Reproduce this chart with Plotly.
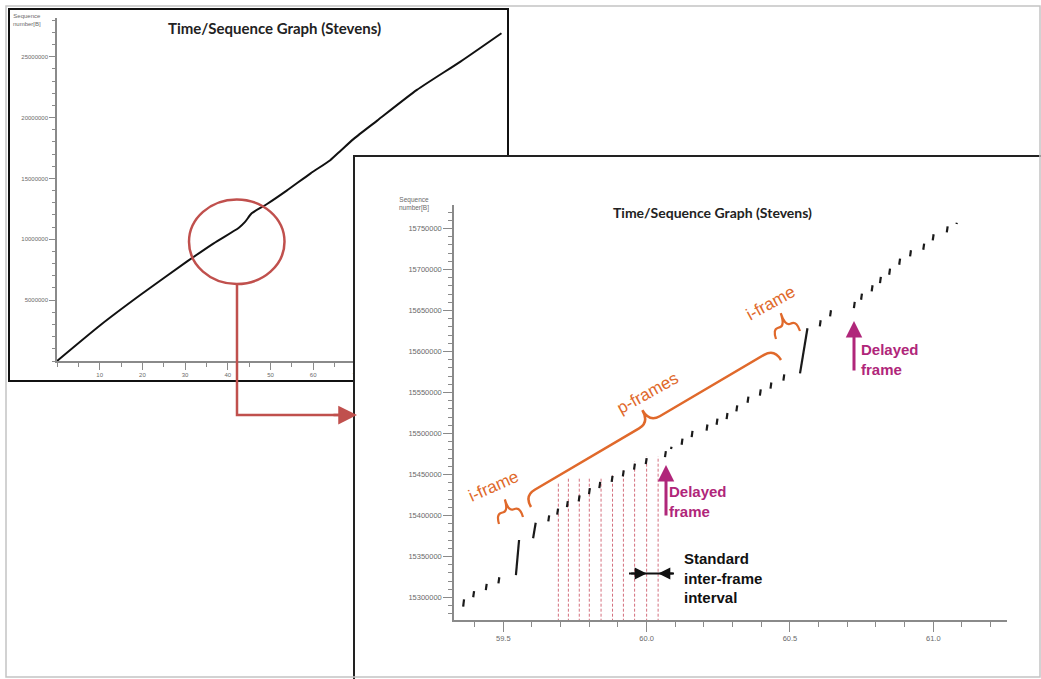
import plotly.graph_objects as go

# ---------------- data ----------------
# overview graph (left panel)
overview_time = [0, 10.2, 19.5, 30.4, 36.7, 42.6, 44.1, 45.6, 49.2, 53.8, 59.4, 64.0, 66.5, 69.5, 75.0, 84.3, 94.5, 104.1]
overview_seq = [0, 2960000, 5420000, 8160000, 9670000, 10950000, 11450000, 12130000, 12900000, 14000000,
                15420000, 16500000, 17300000, 18250000, 19750000, 22270000, 24600000, 26930000]
overview_xticks = [10, 20, 30, 40, 50, 60, 70, 80, 90, 100]
overview_yticks = [5000000, 10000000, 15000000, 20000000, 25000000]
overview_yticktext = ["5000000", "10000000", "15000000", "20000000", "25000000"]

# zoomed graph (right panel): one short segment per video frame
frame_start_time = [59.360, 59.395, 59.439, 59.483, 59.544, 59.604, 59.657, 59.688, 59.722, 59.763, 59.799,
                    59.835, 59.878, 59.917, 59.956, 59.997, 60.064, 60.085, 60.122, 60.157, 60.209, 60.244,
                    60.279, 60.313, 60.352, 60.395, 60.432, 60.477, 60.535, 60.604, 60.640, 60.723, 60.748,
                    60.785, 60.814, 60.846, 60.881, 60.919, 60.965, 60.998, 61.047, 61.081]
frame_end_time = [59.363, 59.398, 59.442, 59.486, 59.555, 59.613, 59.660, 59.691, 59.725, 59.766, 59.802,
                  59.838, 59.881, 59.920, 59.959, 60.000, 60.067, 60.087, 60.125, 60.160, 60.212, 60.247,
                  60.282, 60.316, 60.355, 60.398, 60.435, 60.480, 60.561, 60.607, 60.643, 60.726, 60.751,
                  60.788, 60.817, 60.849, 60.884, 60.922, 60.968, 61.001, 61.050, 61.082]
frame_seq_start = [15288800, 15300300, 15309100, 15317300, 15327400, 15372200, 15392800, 15401000, 15410100,
                   15417200, 15426000, 15433500, 15441000, 15447700, 15455900, 15462600, 15471100, 15481200,
                   15486300, 15495700, 15503600, 15510700, 15517600, 15527000, 15537500, 15546300, 15554800,
                   15564600, 15573400, 15630700, 15642900, 15653000, 15663100, 15673400, 15683500, 15693600,
                   15705800, 15716100, 15724100, 15735600, 15745300, 15755600]
frame_seq_end = [15297800, 15307700, 15316500, 15324700, 15370100, 15391200, 15400200, 15408400, 15417500,
                 15424600, 15433400, 15440900, 15448400, 15455100, 15463300, 15470000, 15478500, 15483800,
                 15493700, 15503100, 15511000, 15518100, 15525000, 15534400, 15544900, 15553700, 15562200,
                 15572000, 15628300, 15638100, 15650300, 15660400, 15670500, 15680800, 15690900, 15701000,
                 15713200, 15723500, 15731500, 15743000, 15752700, 15757000]

# expected (regular) frame times, drawn as dashed guides
expected_frame_time = [59.692, 59.727, 59.765, 59.800, 59.841, 59.881, 59.919, 59.958, 60.000, 60.040]
guide_top_seq = [15441000, 15446000, 15446000, 15446000, 15446000, 15449000, 15455000, 15466000, 15472000, 15472000]

zoom_xticks = [59.5, 60.0, 60.5, 61.0]
zoom_xticktext = ["59.5", "60.0", "60.5", "61.0"]
zoom_yticks = [15300000, 15350000, 15400000, 15450000, 15500000, 15550000, 15600000, 15650000, 15700000, 15750000]
zoom_yticktext = ["15300000", "15350000", "15400000", "15450000", "15500000", "15550000",
                  "15600000", "15650000", "15700000", "15750000"]

# ---------------- helpers ----------------
W, H = 1041, 679


def px(x):
    return x / W


def py(y):
    return 1 - y / H


def brace_path(a, b, c1, c2, r):
    (x0, y0), (x1, y1) = a, b
    dx, dy = x1 - x0, y1 - y0
    L = (dx * dx + dy * dy) ** 0.5
    ux, uy = dx / L, dy / L
    nx, ny = uy, -ux
    if ny > 0:
        nx, ny = -nx, -ny

    def P(al, c):
        X = x0 + ux * al + nx * c
        Y = y0 + uy * al + ny * c
        return f"{X / W:.5f},{1 - Y / H:.5f}"

    h = L / 2
    return (f"M {P(0, 0)} Q {P(0, c1)} {P(r, c1)} L {P(h - r, c1)} Q {P(h, c1)} {P(h, c2)} "
            f"Q {P(h, c1)} {P(h + r, c1)} L {P(L - r, c1)} Q {P(L, c1)} {P(L, 0)}")


AX = "#8a8a8a"
ORANGE = "#e0692b"
MAGENTA = "#b0267a"
RED = "#c0504d"

fig = go.Figure()

# overview line
fig.add_trace(go.Scatter(x=overview_time, y=overview_seq, mode="lines",
                         line=dict(color="#111111", width=2, shape="spline", smoothing=0.6),
                         xaxis="x", yaxis="y", hoverinfo="skip", showlegend=False))
# panel backing subplot (empty)
fig.add_trace(go.Scatter(x=[None], y=[None], mode="markers", xaxis="x2", yaxis="y2",
                         hoverinfo="skip", showlegend=False))

# dashed guides
gx, gy = [], []
for t, top in zip(expected_frame_time, guide_top_seq):
    gx += [t, t, None]
    gy += [15240000, top, None]
fig.add_trace(go.Scatter(x=gx, y=gy, mode="lines", line=dict(color="#d4707e", width=1, dash="3px,2px"),
                         xaxis="x3", yaxis="y3", hoverinfo="skip", showlegend=False))

# frame bursts
fx, fy = [], []
for t0, t1, s0, s1 in zip(frame_start_time, frame_end_time, frame_seq_start, frame_seq_end):
    fx += [t0, t1, None]
    fy += [s0, s1, None]
fig.add_trace(go.Scatter(x=fx, y=fy, mode="lines", line=dict(color="#1a1a1a", width=2.2),
                         xaxis="x3", yaxis="y3", hoverinfo="skip", showlegend=False))

tickfont_small = dict(family="Liberation Sans", size=6, color="#6a6a6a")
tickfont_zoom = dict(family="Liberation Sans", size=7.5, color="#6a6a6a")

fig.update_layout(
    width=W, height=H, autosize=False,
    margin=dict(l=0, r=0, t=0, b=0),
    paper_bgcolor="white", plot_bgcolor="white",
    showlegend=False,
    xaxis=dict(domain=[px(57), px(507)], range=[0, 105.4], anchor="y",
               showline=True, linecolor=AX, linewidth=1.5, showgrid=False, zeroline=False,
               tickmode="array", tickvals=overview_xticks, ticks="outside", ticklen=7, tickcolor=AX,
               tickfont=tickfont_small,
               minor=dict(dtick=5, tick0=0, ticks="outside", ticklen=4, tickcolor=AX, showgrid=False)),
    yaxis=dict(domain=[py(361), py(18)], range=[0, 28180000], anchor="x",
               showline=True, linecolor=AX, linewidth=1.5, showgrid=False, zeroline=False,
               tickmode="array", tickvals=overview_yticks, ticktext=overview_yticktext,
               ticks="outside", ticklen=6, tickcolor=AX, tickfont=tickfont_small,
               minor=dict(dtick=1000000, tick0=0, ticks="outside", ticklen=3, tickcolor=AX, showgrid=False)),
    xaxis2=dict(domain=[px(355), 1], range=[0, 1], anchor="y2", side="top",
                showline=True, linecolor="#222222", linewidth=1.5, showgrid=False, zeroline=False,
                showticklabels=False, ticks="", fixedrange=True),
    yaxis2=dict(domain=[0, py(157)], range=[0, 1], anchor="x2", side="left",
                showline=True, linecolor="#222222", linewidth=1.5, showgrid=False, zeroline=False,
                showticklabels=False, ticks="", fixedrange=True),
    xaxis3=dict(domain=[px(454), px(1006.7)], range=[59.328, 61.256], anchor="y3",
                showline=True, linecolor=AX, linewidth=1.5, showgrid=False, zeroline=False,
                tickmode="array", tickvals=zoom_xticks, ticktext=zoom_xticktext,
                ticks="outside", ticklen=10, tickcolor=AX, tickfont=tickfont_zoom,
                minor=dict(dtick=0.1, tick0=59.0, ticks="outside", ticklen=5, tickcolor=AX, showgrid=False)),
    yaxis3=dict(domain=[py(620), py(205)], range=[15272560, 15778660], anchor="x3",
                showline=True, linecolor=AX, linewidth=1.5, showgrid=False, zeroline=False,
                tickmode="array", tickvals=zoom_yticks, ticktext=zoom_yticktext,
                ticks="outside", ticklen=9, tickcolor=AX, tickfont=tickfont_zoom,
                minor=dict(dtick=10000, tick0=15300000, ticks="outside", ticklen=4, tickcolor=AX, showgrid=False)),
)

shapes = []
# left panel frame (below the cartesian layer, so the right panel covers it)
shapes.append(dict(type="rect", xref="paper", yref="paper", layer="below",
                   x0=px(9), x1=px(508), y0=py(381), y1=py(9),
                   line=dict(color="#111111", width=2), fillcolor="rgba(0,0,0,0)"))
# red circle
shapes.append(dict(type="circle", xref="paper", yref="paper", layer="above",
                   x0=px(189), x1=px(284.5), y0=py(284), y1=py(199.5),
                   line=dict(color=RED, width=2.5)))
# red connector
shapes.append(dict(type="path", xref="paper", yref="paper", layer="above",
                   path=f"M {px(237)},{py(284)} L {px(237)},{py(415)} L {px(342)},{py(415)}",
                   line=dict(color=RED, width=2.5)))
# braces
shapes.append(dict(type="path", xref="paper", yref="paper", layer="above",
                   path=brace_path((531, 507), (781, 360), 13, 27, 12),
                   line=dict(color=ORANGE, width=2.5)))
shapes.append(dict(type="path", xref="paper", yref="paper", layer="above",
                   path=brace_path((499, 524), (523, 517), 10, 22, 5),
                   line=dict(color=ORANGE, width=2.2)))
shapes.append(dict(type="path", xref="paper", yref="paper", layer="above",
                   path=brace_path((776, 339), (800, 331), 10, 23, 5),
                   line=dict(color=ORANGE, width=2.2)))
# standard inter-frame interval bar
shapes.append(dict(type="line", xref="paper", yref="paper", layer="above",
                   x0=px(629), x1=px(674), y0=py(573.5), y1=py(573.5),
                   line=dict(color="#111111", width=2)))
# outer gray frame
shapes.append(dict(type="rect", xref="paper", yref="paper", layer="above",
                   x0=px(6), x1=px(1040), y0=py(677), y1=py(6),
                   line=dict(color="#c4c4c4", width=1.5), fillcolor="rgba(0,0,0,0)"))
fig.update_layout(shapes=shapes)


def note(x, y, text, font, **kw):
    d = dict(x=px(x), y=py(y), xref="paper", yref="paper", showarrow=False, text=text, font=font,
             xanchor="center", yanchor="middle")
    d.update(kw)
    return d


ann = []
ann.append(note(274, 28, "<b>Time/Sequence Graph (Stevens)</b>",
                dict(family="Lato", size=15, color="#222222")))
ann.append(note(712, 212, "<b>Time/Sequence Graph (Stevens)</b>",
                dict(family="Lato", size=14, color="#222222")))
ann.append(note(27, 20, "Sequence<br>number[B]", dict(family="Liberation Sans", size=6, color="#6a6a6a")))
ann.append(note(414, 204, "Sequence<br>number[B]", dict(family="Liberation Sans", size=6.5, color="#6a6a6a")))
ann.append(note(493, 486, "i-frame", dict(family="Liberation Sans", size=17, color=ORANGE), textangle=-24))
ann.append(note(647, 393, "p-frames", dict(family="Liberation Sans", size=17, color=ORANGE), textangle=-29))
ann.append(note(770, 303, "i-frame", dict(family="Liberation Sans", size=17, color=ORANGE), textangle=-29))
ann.append(note(667, 501, "<b>Delayed<br>frame</b>", dict(family="Liberation Sans", size=15, color=MAGENTA),
                xanchor="left", align="left"))
ann.append(note(859, 359, "<b>Delayed<br>frame</b>", dict(family="Liberation Sans", size=15, color=MAGENTA),
                xanchor="left", align="left"))
ann.append(note(682, 578, "<b>Standard<br>inter-frame<br>interval</b>",
                dict(family="Liberation Sans", size=15, color="#111111"), xanchor="left", align="left"))


def arrow(x, y, ax, ay, color, width, size):
    return dict(x=px(x), y=py(y), xref="paper", yref="paper", text="", showarrow=True,
                ax=ax, ay=ay, arrowhead=2, arrowsize=size, arrowwidth=width, arrowcolor=color)


ann.append(arrow(666, 465, 0, 52, MAGENTA, 3, 1.1))
ann.append(arrow(854, 321, 0, 51, MAGENTA, 3, 1.1))
ann.append(arrow(646.7, 573.5, -17, 0, "#111111", 2, 1.2))
ann.append(arrow(658.3, 573.5, 16, 0, "#111111", 2, 1.2))
ann.append(arrow(357, 415, -25, 0, RED, 2.5, 1.5))
fig.update_layout(annotations=ann)

fig.write_html("out.html", config={"displayModeBar": False},
               post_script="document.body.style.margin='0px';document.body.style.overflow='hidden';")
